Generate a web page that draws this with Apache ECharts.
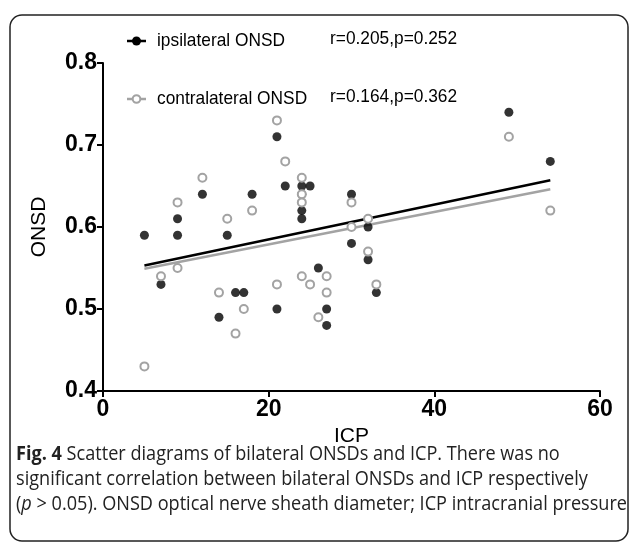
<!DOCTYPE html>
<html>
<head>
<meta charset="utf-8">
<script src="https://cdn.jsdelivr.net/npm/echarts@6/dist/echarts.min.js"></script>
<style>
    html, body { margin: 0; padding: 0; background: #fff; }
    #chart { width: 629px; height: 544px; }
</style>
</head>
<body>
<div id="chart"></div>
<script>
// ICP of each patient (same patients for both sides)
var icp = [5, 7, 9, 9, 12, 14, 15, 16, 17, 18, 21, 21, 22, 24, 24, 24, 24, 25, 26, 27, 27, 30, 30, 32, 32, 33, 49, 54];
var onsdIpsi = [0.59, 0.53, 0.61, 0.59, 0.64, 0.49, 0.59, 0.52, 0.52, 0.64, 0.71, 0.50, 0.65, 0.65, 0.64, 0.62, 0.61, 0.65, 0.55, 0.50, 0.48, 0.64, 0.58, 0.60, 0.56, 0.52, 0.74, 0.68];
var onsdContra = [0.43, 0.54, 0.63, 0.55, 0.66, 0.52, 0.61, 0.47, 0.50, 0.62, 0.73, 0.53, 0.68, 0.66, 0.64, 0.63, 0.54, 0.53, 0.49, 0.54, 0.52, 0.63, 0.60, 0.61, 0.57, 0.53, 0.71, 0.62];

// regression line ends
var fitX = [5, 54];
var fitIpsi = [0.553, 0.657];
var fitContra = [0.549, 0.646];

var seriesNames = ['ipsilateral ONSD', 'contralateral ONSD'];
var statTexts = ['r=0.205,p=0.252', 'r=0.164,p=0.362'];
// caption segments: [style, text]
var captionLines = [
    [['b', 'Fig. 4'], ['n', ' Scatter diagrams of bilateral ONSDs and ICP. There was no']],
    [['n', 'significant correlation between bilateral ONSDs and ICP respectively']],
    [['n', '('], ['i', 'p'], ['n', ' > 0.05). ONSD optical nerve sheath diameter; ICP intracranial pressure']]
];

function pairs(xs, ys) {
    return xs.map(function (x, i) { return [x, ys[i]]; });
}

var ctx = document.createElement('canvas').getContext('2d');
function textWidth(str, font) {
    ctx.font = font;
    return ctx.measureText(str).width;
}

var GRAY = '#a3a3a3';
var SANS = '"Liberation Sans", Arial, sans-serif';
var CAP = '"Open Sans", "Noto Sans", sans-serif';
var capFonts = {
    b: 'bold 20px ' + CAP,
    n: '20px ' + CAP,
    i: 'italic 20px ' + CAP
};

var chart = echarts.init(document.getElementById('chart'));

var graphics = [{
    type: 'rect',
    shape: { x: 10, y: 15, width: 618, height: 526, r: 12 },
    style: { fill: 'none', stroke: '#222', lineWidth: 1.5 },
    silent: true
}];

// legend: squeeze text so "ipsilateral ONSD" is as wide as in the figure
var legFont = '19px ' + SANS;
var legScale = 128 / textWidth(seriesNames[0], legFont);

[0, 1].forEach(function (k) {
    var y = k === 0 ? 41 : 99;
    var col = k === 0 ? '#000' : GRAY;
    graphics.push({
        type: 'line', shape: { x1: 127, y1: y, x2: 146, y2: y },
        style: { stroke: col, lineWidth: 2.5 }
    });
    graphics.push({
        type: 'circle', shape: { cx: 136.5, cy: y, r: k === 0 ? 4.5 : 3.8 },
        style: k === 0 ? { fill: '#000' } : { fill: '#fff', stroke: GRAY, lineWidth: 2 }
    });
    graphics.push({
        type: 'text', x: 157, y: y, scaleX: legScale,
        style: { text: seriesNames[k], font: legFont, fill: '#000', verticalAlign: 'middle' }
    });
    graphics.push({
        type: 'text', x: 330, y: y - 2, scaleX: legScale,
        style: { text: statTexts[k], font: legFont, fill: '#000', verticalAlign: 'middle' }
    });
});

// caption, condensed so the last line ends at the right edge like in the figure
var capLeft = 16;
var lastW = captionLines[2].reduce(function (s, seg) { return s + textWidth(seg[1], capFonts[seg[0]]); }, 0);
var capScale = (627 - capLeft) / lastW;

captionLines.forEach(function (ln, i) {
    var txt = ln.map(function (seg) { return '{' + seg[0] + '|' + seg[1] + '}'; }).join('');
    graphics.push({
        type: 'text', x: capLeft, y: 454 + i * 25, scaleX: capScale,
        style: {
            text: txt,
            verticalAlign: 'middle',
            rich: {
                b: { font: capFonts.b, fill: '#222' },
                n: { font: capFonts.n, fill: '#222' },
                i: { font: capFonts.i, fill: '#222' }
            }
        }
    });
});

var option = {
    animation: false,
    backgroundColor: '#fff',
    grid: { left: 103, right: 29, top: 63, bottom: 153 },
    xAxis: {
        type: 'value', min: 0, max: 60, interval: 20,
        name: 'ICP', nameLocation: 'middle', nameGap: 31,
        nameTextStyle: { fontFamily: SANS, fontSize: 21, color: '#000' },
        axisLine: { show: true, lineStyle: { color: '#000', width: 2 } },
        axisTick: { show: true, length: 6, lineStyle: { color: '#000', width: 2 } },
        axisLabel: { fontFamily: SANS, fontWeight: 'bold', fontSize: 23, color: '#000', margin: 7 },
        splitLine: { show: false }
    },
    yAxis: {
        type: 'value', min: 0.4, max: 0.8, interval: 0.1,
        name: 'ONSD', nameLocation: 'middle', nameGap: 53,
        nameTextStyle: { fontFamily: SANS, fontSize: 21, color: '#000' },
        axisLine: { show: true, lineStyle: { color: '#000', width: 2 } },
        axisTick: { show: true, length: 6, lineStyle: { color: '#000', width: 2 } },
        axisLabel: {
            fontFamily: SANS, fontWeight: 'bold', fontSize: 23, color: '#000', margin: 6,
            formatter: function (v) { return v.toFixed(1); }
        },
        splitLine: { show: false }
    },
    series: [{
        name: seriesNames[0],
        type: 'scatter',
        symbolSize: 9,
        itemStyle: { color: '#000' },
        data: pairs(icp, onsdIpsi),
        z: 3
    }, {
        name: seriesNames[1],
        type: 'scatter',
        symbolSize: 8,
        itemStyle: { color: '#fff', borderColor: GRAY, borderWidth: 2, opacity: 1 },
        data: pairs(icp, onsdContra),
        z: 4
    }, {
        type: 'line',
        data: pairs(fitX, fitIpsi),
        symbol: 'none',
        lineStyle: { color: '#000', width: 2.5 },
        z: 2
    }, {
        type: 'line',
        data: pairs(fitX, fitContra),
        symbol: 'none',
        lineStyle: { color: GRAY, width: 2.5 },
        z: 2
    }],
    graphic: graphics
};
chart.setOption(option);
</script>
</body>
</html>
